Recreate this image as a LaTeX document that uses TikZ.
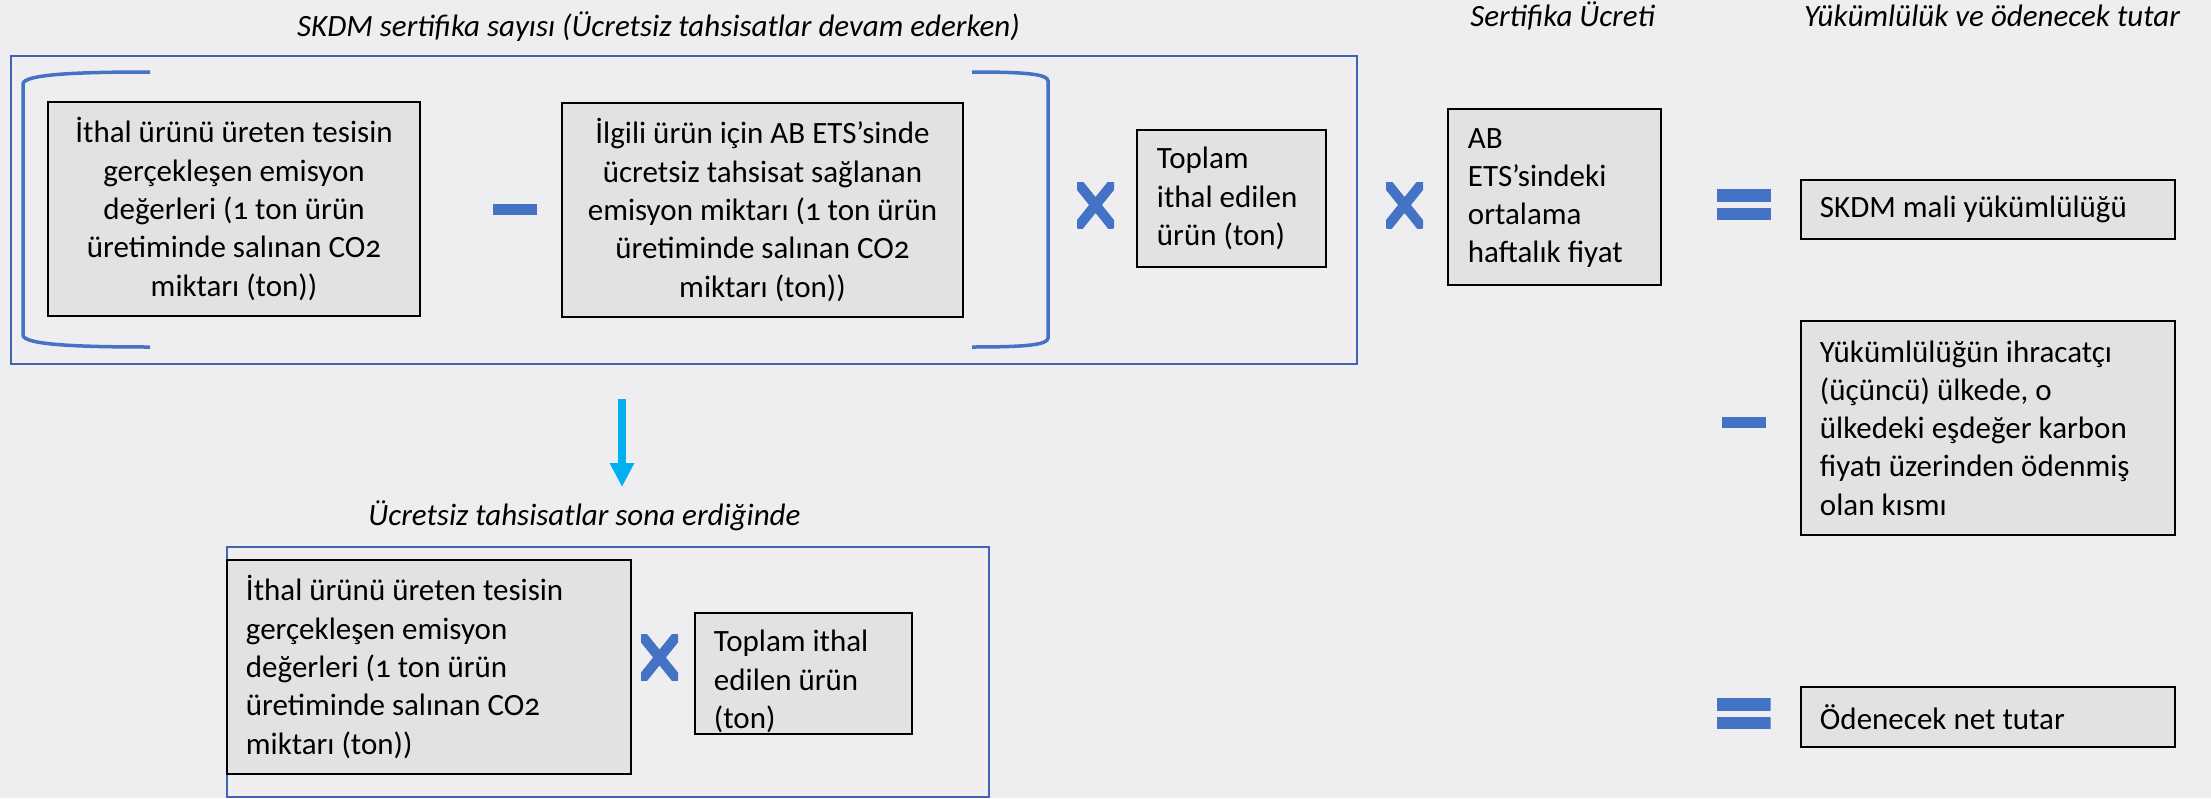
\documentclass[tikz,border=0pt]{standalone}
\usepackage{fontspec}
\setmainfont{Carlito}[Numbers=OldStyle]
\usetikzlibrary{arrows.meta,calc}
\definecolor{bg}{RGB}{238,238,240}
\definecolor{boxfill}{RGB}{226,226,226}
\definecolor{frameblue}{RGB}{63,100,178}
\definecolor{signblue}{RGB}{68,114,196}
\definecolor{arrowcyan}{RGB}{0,176,240}
\tikzset{
  txt/.style={font=\fontsize{31}{38.3}\selectfont, inner sep=0pt},
  ttl/.style={font=\itshape\fontsize{31}{38.3}\selectfont, inner sep=0pt},
  gbox/.style={draw=black, line width=2.5pt, fill=boxfill, inner sep=0pt},
  cbox/.style={gbox, font=\fontsize{31}{38.3}\selectfont, align=center},
  frame/.style={draw=frameblue, line width=2pt, inner sep=0pt},
  brk/.style={draw=signblue, line width=3.5pt},
  minussign/.style={fill=signblue, minimum width=44pt, minimum height=11pt, inner sep=0pt},
  timessign/.style={minimum width=37pt, minimum height=46pt, inner sep=0pt,
    path picture={
      \draw[signblue, line width=10pt]
        (path picture bounding box.north west) -- (path picture bounding box.south east)
        (path picture bounding box.north east) -- (path picture bounding box.south west);
    }},
  equalsign/.style={minimum width=54pt, minimum height=31pt, inner sep=0pt,
    path picture={
      \fill[signblue] (path picture bounding box.north west) rectangle ($(path picture bounding box.north east)+(0pt,-13pt)$);
      \fill[signblue] (path picture bounding box.south west) rectangle ($(path picture bounding box.south east)+(0pt,12pt)$);
    }},
}
\begin{document}
\begin{tikzpicture}[x=1pt,y=-1pt]
\fill[bg] (0,0) rectangle (2211,798);
\useasboundingbox (0,0) rectangle (2211,798);

% titles
\node[ttl, anchor=base] (t1) at (658.5,36) {SKDM sertifika sayısı (Ücretsiz tahsisatlar devam ederken)};
\node[ttl, anchor=base] (t2) at (1562.5,26) {Sertifika Ücreti};
\node[ttl, anchor=base] (t3) at (1992,26) {Yükümlülük ve ödenecek tutar};
\node[ttl, anchor=base] (t4) at (584.5,525) {Ücretsiz tahsisatlar sona erdiğinde};

% top frame
\node[frame, minimum width=1346pt, minimum height=308pt] (f1) at (684,210) {};
% brackets
\draw[brk] (150,72) .. controls (80,72) and (23,74) .. (23,84) -- (23,335) .. controls (23,345) and (80,347) .. (150,347);
\draw[brk] (972,72) .. controls (1025,72) and (1048,74) .. (1048,81) -- (1048,338) .. controls (1048,345) and (1025,347) .. (972,347);

\node[cbox, minimum width=372pt, minimum height=214pt] (a1) at (234,209)
  {İthal ürünü üreten tesisin\\gerçekleşen emisyon\\değerleri (1 ton ürün\\üretiminde salınan CO2\\miktarı (ton))};
\node[minussign] (m1) at (515,209.5) {};
\node[cbox, minimum width=401pt, minimum height=214pt] (a2) at (762.5,210)
  {İlgili ürün için AB ETS’sinde\\ücretsiz tahsisat sağlanan\\emisyon miktarı (1 ton ürün\\üretiminde salınan CO2\\miktarı (ton))};
\node[timessign] (x1) at (1095.5,205) {};
\node[gbox, minimum width=189pt, minimum height=137pt] (tp) at (1231.5,198.5) {};
\node[txt, anchor=west, align=left] (tpt) at ($(tp.west)+(21,0)$) {Toplam\\ithal edilen\\ürün (ton)};

\node[timessign] (x2) at (1404.5,205) {};
\node[gbox, minimum width=213pt, minimum height=176pt] (ab) at (1554.5,197) {};
\node[txt, anchor=west, align=left] (abt) at ($(ab.west)+(21,1)$) {AB\\ETS’sindeki\\ortalama\\haftalık fiyat};

\node[equalsign] (e1) at (1744,204.5) {};
\node[gbox, minimum width=374pt, minimum height=59pt] (sk) at (1988,209.5) {};
\node[txt, anchor=west, align=left] (skt) at ($(sk.west)+(20,0)$) {SKDM mali yükümlülüğü};

\node[minussign] (m2) at (1744,422.5) {};
\node[gbox, minimum width=374pt, minimum height=214pt] (yk) at (1988,428) {};
\node[txt, anchor=west, align=left] (ykt) at ($(yk.west)+(20,0)$) {Yükümlülüğün ihracatçı\\(üçüncü) ülkede, o\\ülkedeki eşdeğer karbon\\fiyatı üzerinden ödenmiş\\olan kısmı};

\node[equalsign] (e2) at (1743.5,713.5) {};
\node[gbox, minimum width=374pt, minimum height=60pt] (od) at (1988,717) {};
\node[txt, anchor=west, align=left] (odt) at ($(od.west)+(20,0)$) {Ödenecek net tutar};

% arrow
\coordinate (as) at (622,399);
\coordinate (ae) at (622,487);
\draw[arrowcyan, line width=8pt, -{Triangle[length=24pt,width=23pt]}] (as) -- (ae);

% bottom frame
\node[frame, minimum width=762pt, minimum height=250pt] (f2) at (608,672) {};
\node[gbox, minimum width=404pt, minimum height=214pt] (b1) at (429,667) {};
\node[txt, anchor=west, align=left] (b1t) at ($(b1.west)+(20,0)$) {İthal ürünü üreten tesisin\\gerçekleşen emisyon\\değerleri (1 ton ürün\\üretiminde salınan CO2\\miktarı (ton))};
\node[timessign] (x3) at (659.5,657.5) {};
\node[gbox, minimum width=217pt, minimum height=121pt] (b2) at (803.5,673.5) {};
\node[txt, anchor=west, align=left] (b2t) at ($(b2.west)+(20,8)$) {Toplam ithal\\edilen ürün\\(ton)};
\end{tikzpicture}
\end{document}
